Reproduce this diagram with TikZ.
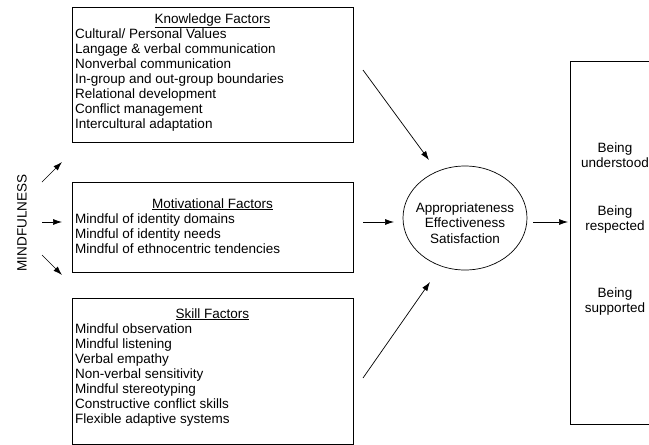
\documentclass[tikz,border=0pt]{standalone}
\usepackage{fontspec}
\setmainfont{Liberation Sans}
\usetikzlibrary{arrows.meta,shapes.geometric}
\begin{document}
\begin{tikzpicture}[x=1pt,y=-1pt,
  box/.style={draw, line width=0.8pt, inner sep=0pt, anchor=north west},
  txt/.style={font=\fontsize{13.5}{15}\selectfont, inner sep=0pt, anchor=base west},
  ctr/.style={font=\fontsize{13.5}{15}\selectfont, inner sep=0pt, anchor=base},
  arr/.style={-{Latex[length=9pt,width=6pt]}, line width=0.7pt}]
\useasboundingbox (0,0) rectangle (649,445);
\begin{scope}
\clip (0,0) rectangle (649,445);
% boxes
\node[box, minimum width=281pt, minimum height=135pt] (kbox) at (72,7) {};
\node[box, minimum width=281pt, minimum height=90pt] (mbox) at (72,182) {};
\node[box, minimum width=281pt, minimum height=146pt] (sbox) at (72,298) {};
\node[box, minimum width=130pt, minimum height=363pt] (rbox) at (570,61) {};
\end{scope}
% headers
\node[ctr] (kh) at (212.5,23) {\underline{Knowledge Factors}};
\node[ctr] (mh) at (212.5,208) {\underline{Motivational Factors}};
\node[ctr] (sh) at (212.5,318) {\underline{Skill Factors}};
% knowledge lines
\foreach \t [count=\i] in {Cultural/ Personal Values,Langage \& verbal communication,Nonverbal communication,In-group and out-group boundaries,Relational development,Conflict management,Intercultural adaptation}
  \node[txt] (k\i) at (75,{23+15*\i}) {\t};
\foreach \t [count=\i] in {Mindful of identity domains,Mindful of identity needs,Mindful of ethnocentric tendencies}
  \node[txt] (m\i) at (75,{208+15*\i}) {\t};
\foreach \t [count=\i] in {Mindful observation,Mindful listening,Verbal empathy,Non-verbal sensitivity,Mindful stereotyping,Constructive conflict skills,Flexible adaptive systems}
  \node[txt] (s\i) at (75,{318+15*\i}) {\t};
% ellipse
\node[ellipse, draw, line width=0.7pt, minimum width=124pt, minimum height=104pt, inner sep=0pt] (ell) at (465,218) {};
\node[ctr] (e1) at (465,212) {Appropriateness};
\node[ctr] (e2) at (465,227.5) {Effectiveness};
\node[ctr] (e3) at (465,243) {Satisfaction};
% right texts
\node[ctr] (r1a) at (615,152) {Being};
\node[ctr] (r1b) at (615,167) {understood};
\node[ctr] (r2a) at (615,215) {Being};
\node[ctr] (r2b) at (615,230) {respected};
\node[ctr] (r3a) at (615,297) {Being};
\node[ctr] (r3b) at (615,312) {supported};
% mindfulness
\node[font=\fontsize{13.5}{15}\selectfont, inner sep=0pt, rotate=90] (mind) at (22,223) {MINDFULNESS};
% arrow endpoints
\coordinate (a1s) at (42,182); \coordinate (a1e) at (62,162);
\coordinate (a2s) at (42,222); \coordinate (a2e) at (62,222);
\coordinate (a3s) at (42,255); \coordinate (a3e) at (62,275);
\coordinate (b1s) at (363,70); \coordinate (b1e) at (429,160);
\coordinate (b2s) at (363,222); \coordinate (b2e) at (394,222);
\coordinate (b3s) at (363,378); \coordinate (b3e) at (430,282);
\coordinate (cs) at (533,222); \coordinate (ce) at (568,222);
\draw[arr] (a1s) -- (a1e);
\draw[arr] (a2s) -- (a2e);
\draw[arr] (a3s) -- (a3e);
\draw[arr] (b1s) -- (b1e);
\draw[arr] (b2s) -- (b2e);
\draw[arr] (b3s) -- (b3e);
\draw[arr] (cs) -- (ce);
\end{tikzpicture}
\end{document}
